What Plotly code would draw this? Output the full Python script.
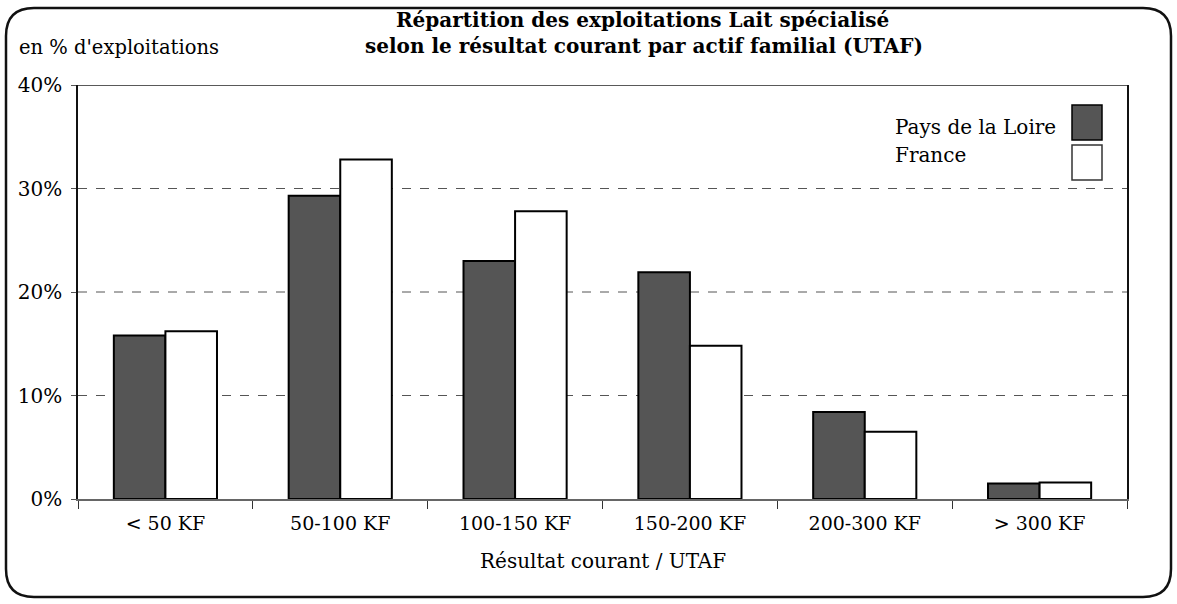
import plotly.graph_objects as go

categories = ["< 50 KF", "50-100 KF", "100-150 KF", "150-200 KF", "200-300 KF", "> 300 KF"]
pays_de_la_loire = [15.8, 29.3, 23.0, 21.9, 8.4, 1.5]
france = [16.2, 32.8, 27.8, 14.8, 6.5, 1.6]
y_ticks = [0, 10, 20, 30, 40]
y_tick_labels = ["0%", "10%", "20%", "30%", "40%"]

FONT = "DejaVu Serif"
W, H = 1177, 604
ML, MR, MT, MB = 78, 50, 85, 105
PW, PH = W - ML - MR, H - MT - MB

def px_x(px):
    return (px - ML) / PW

def px_y(py):
    return (H - MB - py) / PH

fig = go.Figure()
fig.add_trace(go.Bar(
    x=categories, y=pays_de_la_loire, name="Pays de la Loire",
    marker=dict(color="#555555", line=dict(color="#000000", width=2)),
    showlegend=False, hoverinfo="skip",
))
fig.add_trace(go.Bar(
    x=categories, y=france, name="France",
    marker=dict(color="#ffffff", line=dict(color="#000000", width=2)),
    showlegend=False, hoverinfo="skip",
))

shapes = []
for v in [10, 20, 30]:
    shapes.append(dict(type="line", xref="paper", yref="y", x0=0, x1=1, y0=v, y1=v,
                       line=dict(color="#555555", width=1, dash="dash"), layer="below"))
shapes.append(dict(type="line", xref="paper", yref="y", x0=0, x1=1, y0=40, y1=40,
                   line=dict(color="#222222", width=1.5)))

x0, x1 = px_x(6), px_x(1171)
y0, y1 = px_y(597), px_y(8)
rx, ry = 28 / PW, 28 / PH
path = (f"M {x0+rx},{y1} L {x1-rx},{y1} Q {x1},{y1} {x1},{y1-ry} "
        f"L {x1},{y0+ry} Q {x1},{y0} {x1-rx},{y0} L {x0+rx},{y0} "
        f"Q {x0},{y0} {x0},{y0+ry} L {x0},{y1-ry} Q {x0},{y1} {x0+rx},{y1} Z")
shapes.append(dict(type="path", xref="paper", yref="paper", path=path,
                   line=dict(color="#111111", width=2.5)))

shapes.append(dict(type="rect", xref="paper", yref="paper",
                   x0=px_x(1072), x1=px_x(1102), y0=px_y(140), y1=px_y(105),
                   fillcolor="#555555", line=dict(color="#000000", width=1.5)))
shapes.append(dict(type="rect", xref="paper", yref="paper",
                   x0=px_x(1072), x1=px_x(1102), y0=px_y(180), y1=px_y(145),
                   fillcolor="#ffffff", line=dict(color="#333333", width=1.5)))

annotations = [
    dict(text="<b>Répartition des exploitations Lait spécialisé</b>", xref="paper", yref="paper",
         x=px_x(642), y=px_y(20), xanchor="center", yanchor="middle", showarrow=False,
         font=dict(family=FONT, size=20, color="#000")),
    dict(text="<b>selon le résultat courant par actif familial (UTAF)</b>", xref="paper", yref="paper",
         x=px_x(644), y=px_y(46), xanchor="center", yanchor="middle", showarrow=False,
         font=dict(family=FONT, size=20, color="#000")),
    dict(text="en % d'exploitations", xref="paper", yref="paper",
         x=px_x(17), y=px_y(47), xanchor="left", yanchor="middle", showarrow=False,
         font=dict(family=FONT, size=19.5, color="#000")),
    dict(text="Pays de la Loire", xref="paper", yref="paper",
         x=px_x(893), y=px_y(127), xanchor="left", yanchor="middle", showarrow=False,
         font=dict(family=FONT, size=20, color="#000")),
    dict(text="France", xref="paper", yref="paper",
         x=px_x(893), y=px_y(155), xanchor="left", yanchor="middle", showarrow=False,
         font=dict(family=FONT, size=20, color="#000")),
    dict(text="Résultat courant / UTAF", xref="paper", yref="paper",
         x=px_x(603), y=px_y(561), xanchor="center", yanchor="middle", showarrow=False,
         font=dict(family=FONT, size=20, color="#000")),
]

fig.update_layout(
    width=W, height=H,
    margin=dict(l=ML, r=MR, t=MT, b=MB),
    paper_bgcolor="#ffffff", plot_bgcolor="#ffffff",
    barmode="group", bargap=0.41, bargroupgap=0,
    font=dict(family=FONT, size=20, color="#000"),
    shapes=shapes, annotations=annotations,
    showlegend=False, hovermode=False,
)
fig.update_xaxes(
    showline=True, linecolor="#666666", linewidth=1.5, mirror=False,
    ticks="outside", tickson="boundaries", ticklen=8, tickcolor="#333",
    tickfont=dict(family=FONT, size=19), ticklabelstandoff=6,
    showgrid=False, fixedrange=True,
)
fig.update_yaxes(
    range=[0, 40], tickvals=y_ticks, ticktext=y_tick_labels,
    showline=True, linecolor="#111111", linewidth=1.5, mirror=True,
    ticks="outside", ticklen=5, tickcolor="#555",
    tickfont=dict(family=FONT, size=20),
    showgrid=False, zeroline=False, ticklabelstandoff=5, fixedrange=True,
)

fig.write_html("out.html", config={"displayModeBar": False},
               post_script="document.body.style.margin='0';")
